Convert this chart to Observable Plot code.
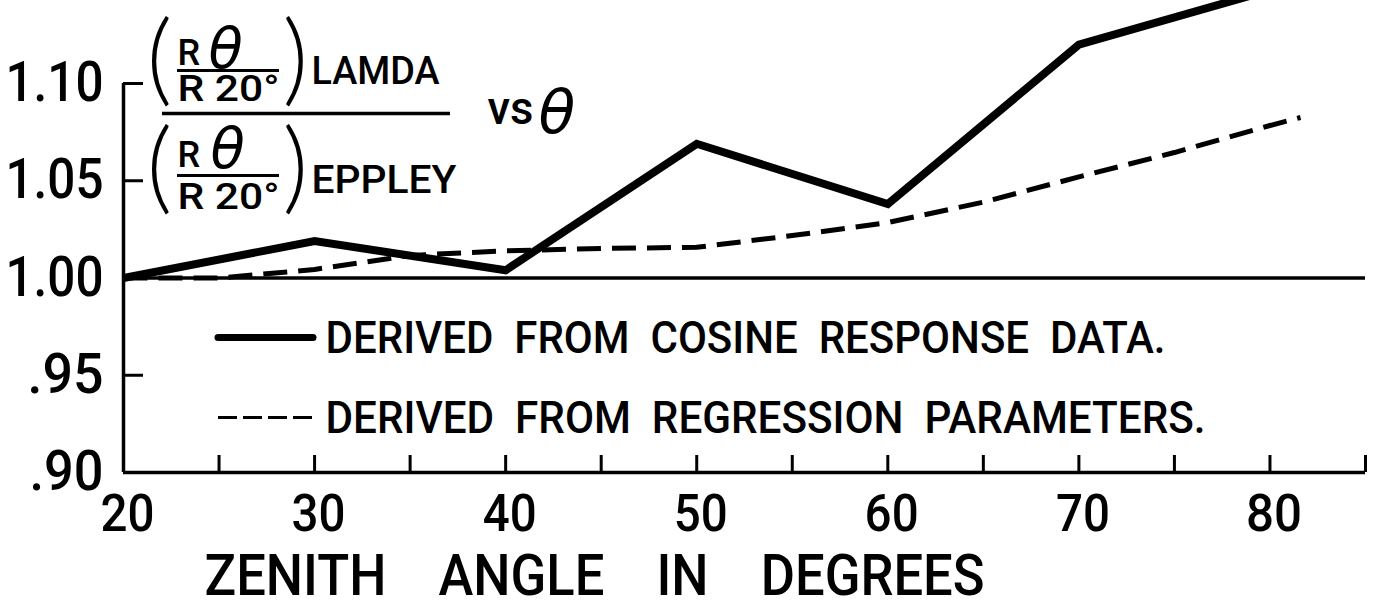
<!DOCTYPE html>
<html><head><meta charset="utf-8">
<script src="https://cdn.jsdelivr.net/npm/d3@7"></script>
<script src="https://cdn.jsdelivr.net/npm/@observablehq/plot@0.6"></script>
<style>
html,body{margin:0;padding:0;background:#fff;}
svg text{white-space:pre;}
</style></head><body><div id="chart"></div>
<script>
// ---- data ----
const lamdaAngles = [20, 30, 40, 50, 60, 70, 80];
const lamdaRatio = [1.000, 1.019, 1.004, 1.069, 1.038, 1.120, 1.148];
const regressionAngles = [20, 25, 30, 35, 40, 45, 50, 55, 60, 65, 70, 75, 80, 81.6];
const regressionRatio = [1.000, 1.000, 1.0044, 1.0116, 1.014, 1.0152, 1.0158, 1.0218, 1.0285, 1.039, 1.052, 1.0645, 1.0784, 1.0825];
const xTickValues = [20, 30, 40, 50, 60, 70, 80];
const xTickLabels = ["20", "30", "40", "50", "60", "70", "80"];
const xMinorTicks = [25, 30, 35, 40, 45, 50, 55, 60, 65, 70, 75, 80, 85];
const yTickValues = [0.90, 0.95, 1.00, 1.05, 1.10];
const yTickLabels = [".90", ".95", "1.00", "1.05", "1.10"];
const yMinorTicks = [0.95, 1.05, 1.10];
const legendLabels = ["DERIVED  FROM  COSINE  RESPONSE  DATA.", "DERIVED  FROM  REGRESSION  PARAMETERS."];
const xTitle = "ZENITH    ANGLE    IN    DEGREES";

// ---- layout ----
const W = 1377, H = 603, mL = 123, mR = 12, mT = 0, mB = 131;
const innerW = W - mL - mR, innerH = H - mT - mB;
const xDom = [20, 85];
const yPxPerUnit = 1945;
const yDom = [0.90, 0.90 + innerH / yPxPerUnit];
const xAt = px => xDom[0] + (px - mL) * (xDom[1] - xDom[0]) / innerW;
const yAt = py => yDom[0] + (mT + innerH - py) / yPxPerUnit;
const ink = "#000";
const font = "Roboto, 'DejaVu Sans', sans-serif";
const parenFont = "Lato, Roboto, 'DejaVu Sans', sans-serif";
const thetaFont = "'DejaVu Sans', sans-serif";
const wt = 500;

const lamda = lamdaAngles.map((a, i) => ({angle: a, ratio: lamdaRatio[i]}));
const regression = regressionAngles.map((a, i) => ({angle: a, ratio: regressionRatio[i]}));

const textAt = (txt, px, py, o = {}) => Plot.text([txt], {
  text: d => d, frameAnchor: "top-left", dx: px - mL, dy: py - mT,
  textAnchor: "start", lineAnchor: "middle", fill: ink, fontSize: 34, fontWeight: wt, ...o
});
const hbar = (py, px1, px2, o = {}) => Plot.ruleY([yAt(py)], {x1: xAt(px1), x2: xAt(px2), stroke: ink, strokeWidth: 3, ...o});
const paren = {fontSize: 100, fontFamily: parenFont, fontWeight: 300};
const theta = {fontStyle: "italic", fontWeight: "normal", fontFamily: thetaFont};

const chart = Plot.plot({
  width: W, height: H,
  marginLeft: mL, marginRight: mR, marginTop: mT, marginBottom: mB,
  x: {domain: xDom},
  y: {domain: yDom},
  style: {fontFamily: font, color: ink, background: "#fff"},
  marks: [
    // frame / axes
    Plot.ruleY([1.00], {x1: 20, x2: 85, stroke: ink, strokeWidth: 3.5}),
    Plot.ruleX([20], {y1: 0.90, y2: 1.10, stroke: ink, strokeWidth: 3.5}),
    Plot.ruleY([0.90], {x1: 20, x2: 85, stroke: ink, strokeWidth: 3.5}),
    Plot.ruleX(xMinorTicks, {y1: 0.90, y2: yAt(455), stroke: ink, strokeWidth: 3}),
    Plot.ruleY(yMinorTicks, {x1: 20, x2: xAt(143), stroke: ink, strokeWidth: 3}),
    Plot.axisX({ticks: xTickValues, tickFormat: d => xTickLabels[xTickValues.indexOf(d)], tickSize: 0, tickPadding: 22, dx: 4, fontSize: 52, fontWeight: wt, label: null}),
    Plot.axisY({ticks: yTickValues, tickFormat: d => yTickLabels[yTickValues.indexOf(d)], tickSize: 0, tickPadding: 20, fontSize: 55, fontWeight: wt, label: null}),
    // data
    Plot.line(regression, {x: "angle", y: "ratio", stroke: ink, strokeWidth: 5, strokeDasharray: "24,11", strokeLinecap: "butt", clip: true}),
    Plot.line(lamda, {x: "angle", y: "ratio", stroke: ink, strokeWidth: 8, strokeLinejoin: "miter", strokeMiterlimit: 4, clip: true}),
    // title expression
    textAt("(", 146, 60, paren),
    textAt(")", 282, 60, paren),
    textAt("(", 146, 168, paren),
    textAt(")", 282, 168, paren),
    textAt("R", 177, 52.5, {fontSize: 36}),
    textAt("θ", 208, 50, {fontSize: 56, ...theta}),
    hbar(70, 177, 279),
    textAt("R 20°", 177, 89, {fontSize: 36}),
    textAt("LAMDA", 311, 71.5, {fontSize: 38}),
    hbar(113, 162, 450, {strokeWidth: 3.5}),
    textAt("R", 177, 155, {fontSize: 36}),
    textAt("θ", 210, 150, {fontSize: 56, ...theta}),
    hbar(175, 177, 279),
    textAt("R 20°", 177, 196.5, {fontSize: 36}),
    textAt("EPPLEY", 311, 180, {fontSize: 38}),
    textAt("vs", 487, 108.5, {fontSize: 46}),
    textAt("θ", 538, 113.5, {fontSize: 60, ...theta}),
    // legend
    hbar(337, 218, 313, {strokeWidth: 7, strokeLinecap: "round"}),
    textAt(legendLabels[0], 325, 338, {fontSize: 45}),
    hbar(417, 218, 318, {strokeWidth: 3, strokeDasharray: "19,6"}),
    textAt(legendLabels[1], 325, 418, {fontSize: 45}),
    // x title
    textAt(xTitle, 204, 576, {fontSize: 58})
  ]
});

// condense lettering widths to match the hand lettering
const widths = new Map([
  ["1.10", 98], ["1.05", 98], ["1.00", 98], [".95", 76], [".90", 74],
  ["20", 54], ["30", 54], ["40", 54], ["50", 54], ["60", 54], ["70", 54], ["80", 56],
  ["R 20°", 102], ["LAMDA", 128], ["EPPLEY", 145], ["vs", 46],
  [legendLabels[0], 840], [legendLabels[1], 880], [xTitle, 780]
]);
chart.querySelectorAll("text").forEach(t => {
  const w = widths.get(t.textContent);
  if (w) { t.setAttribute("textLength", w); t.setAttribute("lengthAdjust", "spacingAndGlyphs"); }
});
document.getElementById("chart").appendChild(chart);
</script></body></html>
